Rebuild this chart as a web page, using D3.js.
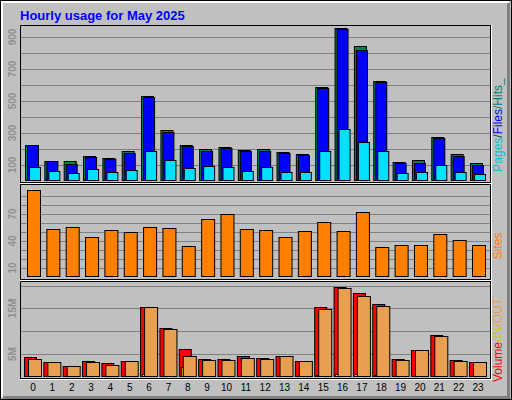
<!DOCTYPE html>
<html><head><meta charset="utf-8">
<script src="https://cdn.jsdelivr.net/npm/d3@7"></script>
<style>body{margin:0;background:#fff}svg{display:block;font-family:"Liberation Sans",Arial,sans-serif}</style>
</head><body><svg id="c" width="512" height="400"></svg>
<script>
const hours = d3.range(24).map(String);
const hits  = [225,125,125,156,142,186,530,317,223,198,211,192,198,180,167,585,955,842,623,117,130,273,167,110];
const files = [225,125,106,150,135,173,523,305,217,186,205,186,185,173,160,580,950,817,617,110,110,267,155,98];
const pages = [88,62,50,73,55,67,186,130,80,92,86,61,85,55,55,185,323,242,185,48,55,98,55,42];
const sites = [97,53,56,44,52,50,56,54,35,65,70,53,52,45,51,61,51,72,33,36,36,48,41,36];
const volume= [4.3,3.2,2.3,3.5,3.0,3.6,15.4,10.7,6.2,4.0,4.0,4.5,4.2,4.5,3.4,15.4,19.8,18.3,15.9,4.0,6.0,9.1,3.8,3.2];
const outV  = [4.0,3.2,2.3,3.2,2.7,3.6,15.3,10.4,4.5,3.8,3.8,4.2,4.0,4.5,3.4,14.9,19.4,17.8,15.6,3.8,6.0,8.9,3.6,3.2];
const inV   = [0.2,0.1,0.1,0.1,0.2,0.1,0.6,0.2,2.1,0.2,0.2,0.2,0.2,0.2,0.1,0.5,0.7,0.7,0.5,0.2,0.1,0.2,0.1,0.1];
const topTicks=[100,300,500,700,900], midTicks=[10,40,70], botTicks=[5,15];

const svg=d3.select("#c");
// outer frame
svg.append("rect").attr("x",0.5).attr("y",0.5).attr("width",511).attr("height",399).attr("fill","#c0c0c0").attr("stroke","#000");
svg.append("path").attr("d","M2,397V2H509").attr("fill","none").attr("stroke","#fff").attr("stroke-width",2);
svg.append("path").attr("d","M3,397.5H508.5V3").attr("fill","none").attr("stroke","#808080").attr("stroke-width",3);
svg.append("text").attr("x",20).attr("y",20).attr("fill","#0000ff").attr("font-weight","bold").attr("font-size",13).text("Hourly usage for May 2025");

const x=d3.scalePoint().domain(hours).range([33,478]);
const L=20,R=490;
function panel(y0,y1,y,grid,ticks,fmt){
  const g=svg.append("g");
  grid.forEach(v=>g.append("line").attr("x1",L).attr("x2",R).attr("y1",Math.round(y(v))+0.5).attr("y2",Math.round(y(v))+0.5).attr("stroke","#808080"));
  g.append("path").attr("d",`M${L+0.5},${y1}V${y0+0.5}H${R+0.5}`).attr("fill","none").attr("stroke","#000");
  g.append("path").attr("d",`M${L},${y1+0.5}H${R+0.5}V${y0}`).attr("fill","none").attr("stroke","#000");
  g.append("path").attr("d",`M${L},${y1+1.5}H${R+1.5}V${y0}`).attr("fill","none").attr("stroke","#fff");
  ticks.forEach(v=>g.append("text").attr("transform",`translate(${16},${y(v)}) rotate(-90)`).attr("text-anchor","middle").attr("fill","#909090").attr("font-size",10).attr("font-weight","bold").text(fmt(v)));
}
function bars(data,y,dx,w,fill){
  svg.append("g").selectAll("rect").data(data).join("rect")
   .attr("x",(d,i)=>x(hours[i])+dx+0.5).attr("width",w).attr("y",d=>Math.round(y(d))+0.5)
   .attr("height",d=>Math.max(0,y(0)-Math.round(y(d))-1)).attr("fill",fill).attr("stroke","#000");
}
// top
const yT=d3.scaleLinear().domain([0,1000]).range([181,21]);
panel(25,182,yT,d3.range(100,1000,100),topTicks,d=>d);
bars(hits,yT,-8,12,"#00805c");
bars(files,yT,-6,11,"#0000ff");
bars(pages,yT,-4,11,"#00e0ff");
// middle
const yM=d3.scaleLinear().domain([0,100]).range([277,187]);
panel(184,279,yM,d3.range(10,100,10),midTicks,d=>d);
bars(sites,yM,-6,13,"#ff8000");
// bottom
const yB=d3.scaleLinear().domain([0,20]).range([377,285.6]);
panel(281,378,yB,[5,10,15,20],botTicks,d=>d+"M");
bars(volume,yB,-9,12,"#ff0000");
bars(inV,yB,-7,2,"#ffff00");
bars(outV,yB,-5,13,"#e8a050");
// x labels
svg.append("g").selectAll("text").data(hours).join("text").attr("x",d=>x(d)).attr("y",391).attr("text-anchor","middle").attr("font-size",10).attr("fill","#000").text(d=>d);
// right legends
function legend(cx,cy,parts){
  const t=svg.append("text").attr("transform",`translate(${cx},${cy}) rotate(-90)`).attr("text-anchor","middle").attr("font-size",12);
  parts.forEach(p=>t.append("tspan").attr("fill",p[1]).text(p[0]));
}
legend(502,125,[["Pages","#00c0d0"],["/","#004040"],["Files","#0000ff"],["/Hits_","#008070"]]);
legend(502,246,[["Sites","#ff8000"]]);
legend(502,340,[["Volume","#ff0000"],["/IN","#c0d000"],["/OUT","#e8a050"]]);
</script></body></html>
